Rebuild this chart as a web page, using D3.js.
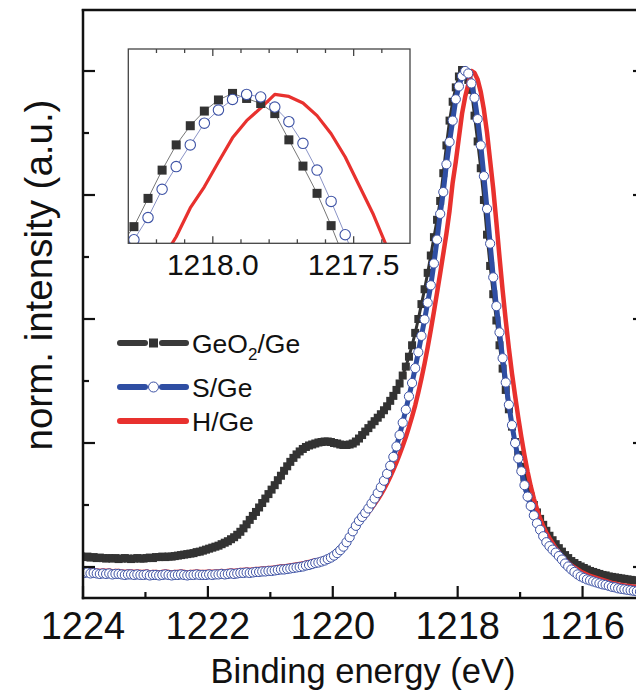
<!DOCTYPE html>
<html><head><meta charset="utf-8">
<script src="https://cdn.jsdelivr.net/npm/d3@7"></script>
<style>body{margin:0;background:#fff} svg{display:block} text{font-family:Arial,"Liberation Sans",Helvetica,sans-serif;fill:#111}</style>
</head><body><svg id="c" width="636" height="692"></svg>
<script>
// Binding-energy sampling grid (eV): 1224.03 down to 1215.08 in 0.05 eV steps (180 points)
const E_START = 1224.03, E_STEP = 0.05, N_PTS = 180;
const energy = d3.range(N_PTS).map(i => +(E_START - i * E_STEP).toFixed(2));

// GeO2/Ge (normalized intensity)
const geo2 = [
 0.021,0.020,0.021,0.019,0.020,0.018,0.019,0.018,0.017,0.018,0.017,0.018,0.016,0.017,0.018,0.017,0.016,0.017,0.018,0.017,
 0.017,0.018,0.019,0.018,0.020,0.020,0.021,0.020,0.021,0.021,0.022,0.023,0.024,0.025,0.026,0.027,0.028,0.030,0.031,0.033,
 0.035,0.037,0.039,0.041,0.043,0.046,0.049,0.052,0.056,0.060,0.065,0.071,0.078,0.086,0.095,0.103,0.111,0.120,0.129,0.138,
 0.147,0.156,0.165,0.175,0.184,0.194,0.203,0.212,0.220,0.227,0.233,0.238,0.242,0.245,0.247,0.249,0.251,0.252,0.253,0.253,
 0.252,0.250,0.249,0.247,0.246,0.246,0.247,0.249,0.253,0.259,0.266,0.273,0.280,0.287,0.294,0.301,0.308,0.316,0.324,0.335,
 0.345,0.357,0.370,0.386,0.404,0.424,0.447,0.472,0.500,0.530,0.560,0.593,0.628,0.665,0.700,0.738,0.794,0.850,0.900,0.938,
 0.967,0.989,1.002,0.992,0.982,0.962,0.910,0.858,0.804,0.740,0.670,0.607,0.550,0.497,0.447,0.400,0.357,0.318,0.283,0.252,
 0.226,0.202,0.180,0.160,0.142,0.125,0.110,0.097,0.085,0.073,0.063,0.054,0.046,0.038,0.031,0.024,0.018,0.012,0.008,0.004,
 0.001,-0.002,-0.005,-0.008,-0.010,-0.012,-0.014,-0.016,-0.017,-0.019,-0.020,-0.021,-0.022,-0.023,-0.024,-0.025,-0.026,-0.027,-0.027,-0.028
];
// S/Ge
const sge = [
 -0.011,-0.012,-0.011,-0.013,-0.012,-0.013,-0.014,-0.013,-0.014,-0.013,-0.015,-0.014,-0.014,-0.015,-0.016,-0.015,-0.015,-0.016,-0.015,-0.016,
 -0.016,-0.015,-0.017,-0.016,-0.016,-0.017,-0.016,-0.015,-0.016,-0.017,-0.016,-0.016,-0.015,-0.016,-0.017,-0.016,-0.016,-0.015,-0.016,-0.016,
 -0.016,-0.015,-0.016,-0.015,-0.015,-0.014,-0.015,-0.014,-0.013,-0.014,-0.013,-0.012,-0.012,-0.011,-0.012,-0.011,-0.010,-0.010,-0.009,-0.009,
 -0.008,-0.008,-0.007,-0.006,-0.005,-0.005,-0.004,-0.003,-0.002,-0.001,0.000,0.001,0.003,0.004,0.006,0.008,0.009,0.011,0.013,0.016,
 0.019,0.023,0.028,0.034,0.041,0.050,0.060,0.072,0.083,0.093,0.101,0.109,0.118,0.128,0.138,0.149,0.161,0.174,0.188,0.204,
 0.222,0.243,0.266,0.291,0.317,0.344,0.371,0.401,0.433,0.466,0.499,0.533,0.568,0.612,0.660,0.712,0.756,0.812,0.857,0.900,
 0.943,0.969,0.990,1.000,0.995,0.975,0.946,0.903,0.850,0.788,0.722,0.652,0.584,0.526,0.473,0.421,0.372,0.327,0.286,0.250,
 0.219,0.193,0.165,0.142,0.123,0.104,0.088,0.075,0.062,0.050,0.042,0.035,0.029,0.022,0.015,0.007,0.001,-0.005,-0.010,-0.015,
 -0.019,-0.022,-0.025,-0.027,-0.029,-0.031,-0.033,-0.035,-0.036,-0.038,-0.040,-0.041,-0.043,-0.044,-0.045,-0.046,-0.047,-0.048,-0.049,-0.050
];
// H/Ge
const hge = [
 -0.005,-0.006,-0.005,-0.007,-0.006,-0.007,-0.008,-0.007,-0.008,-0.007,-0.009,-0.008,-0.008,-0.009,-0.010,-0.009,-0.009,-0.010,-0.009,-0.010,
 -0.010,-0.009,-0.011,-0.010,-0.010,-0.011,-0.010,-0.009,-0.010,-0.011,-0.010,-0.010,-0.009,-0.010,-0.011,-0.010,-0.010,-0.009,-0.010,-0.010,
 -0.010,-0.009,-0.010,-0.009,-0.009,-0.008,-0.009,-0.008,-0.007,-0.008,-0.007,-0.006,-0.006,-0.005,-0.006,-0.005,-0.004,-0.004,-0.003,-0.003,
 -0.002,-0.002,-0.001,0.000,0.001,0.001,0.002,0.003,0.004,0.005,0.006,0.007,0.009,0.010,0.012,0.013,0.014,0.016,0.018,0.020,
 0.022,0.026,0.031,0.037,0.044,0.052,0.061,0.071,0.080,0.088,0.095,0.102,0.110,0.118,0.127,0.136,0.146,0.157,0.169,0.182,
 0.196,0.211,0.227,0.244,0.262,0.282,0.303,0.326,0.352,0.380,0.410,0.443,0.478,0.515,0.553,0.592,0.632,0.672,0.718,0.775,
 0.817,0.866,0.914,0.948,0.973,1.000,0.996,0.983,0.958,0.922,0.876,0.819,0.762,0.695,0.625,0.558,0.497,0.441,0.390,0.345,
 0.302,0.262,0.225,0.192,0.163,0.138,0.117,0.098,0.082,0.069,0.058,0.048,0.038,0.030,0.022,0.015,0.009,0.003,-0.001,-0.005,
 -0.009,-0.012,-0.015,-0.018,-0.020,-0.022,-0.024,-0.026,-0.028,-0.030,-0.032,-0.033,-0.035,-0.036,-0.037,-0.038,-0.039,-0.040,-0.040,-0.041
];

const seriesNames = ["GeO\u2082/Ge", "S/Ge", "H/Ge"];
const xMajorTicks = [1224, 1222, 1220, 1218, 1216];
const xMinorTicks = [1223, 1221, 1219, 1217, 1215];
const yMajorTicks = [0, 0.25, 0.5, 0.75, 1.0];
const yMinorTicks = [0.125, 0.375, 0.625, 0.875];
const insetMajorTicks = [1218.0, 1217.5];
const insetMinorTicks = [1218.2, 1218.1, 1217.9, 1217.8, 1217.7, 1217.6, 1217.4];
const xTitle = "Binding energy (eV)";
const yTitle = "norm. intensity (a.u.)";

const C = {dark:"#333333", blue:"#2f4ea3", circ:"#3d52a5", red:"#e8312e"};
const rows = energy.map((e, i) => ({e, g: geo2[i], s: sge[i], h: hge[i]}));

const svg = d3.select("#c");
svg.append("rect").attr("width", 636).attr("height", 692).attr("fill", "#fff");

const M = {left: 83, right: 645, top: 10, bottom: 598};
const x = d3.scaleLinear().domain([1224, 1215]).range([M.left, M.right]);
const y = d3.scaleLinear().domain([-0.0625, 1.123]).range([M.bottom, M.top]);

const defs = svg.append("defs");
defs.append("clipPath").attr("id", "clipMain").append("rect")
  .attr("x", M.left).attr("y", M.top).attr("width", M.right - M.left).attr("height", M.bottom - M.top);

const plot = svg.append("g").attr("clip-path", "url(#clipMain)");
const line = key => d3.line().x(d => x(d.e)).y(d => y(d[key]));

plot.append("path").datum(rows).attr("d", line("g")).attr("fill", "none").attr("stroke", C.dark).attr("stroke-width", 3);
plot.selectAll("rect.sq").data(rows).join("rect").attr("class", "sq")
  .attr("x", d => x(d.e) - 4).attr("y", d => y(d.g) - 4).attr("width", 8).attr("height", 8).attr("fill", C.dark);
plot.append("path").datum(rows).attr("d", line("s")).attr("fill", "none").attr("stroke", C.blue).attr("stroke-width", 5);
plot.append("path").datum(rows).attr("d", line("h")).attr("fill", "none").attr("stroke", C.red).attr("stroke-width", 4.5).attr("stroke-linejoin", "round");
plot.selectAll("circle.ci").data(rows).join("circle").attr("class", "ci")
  .attr("cx", d => x(d.e)).attr("cy", d => y(d.s)).attr("r", 4.6)
  .attr("fill", "#fff").attr("stroke", C.circ).attr("stroke-width", 1);

// frame
const ax = svg.append("g").attr("stroke", "#111").attr("stroke-width", 2.5).attr("fill", "none");
ax.append("line").attr("x1", M.left).attr("x2", M.left).attr("y1", M.top - 1).attr("y2", M.bottom + 1.2);
ax.append("line").attr("x1", M.left - 1.2).attr("x2", M.right).attr("y1", M.bottom).attr("y2", M.bottom);
ax.append("line").attr("x1", M.left - 1.2).attr("x2", M.right).attr("y1", M.top).attr("y2", M.top);
ax.append("line").attr("x1", M.right).attr("x2", M.right).attr("y1", M.top).attr("y2", M.bottom);

const tk = svg.append("g").attr("stroke", "#111").attr("stroke-width", 2.2);
xMajorTicks.forEach(v => tk.append("line").attr("x1", x(v)).attr("x2", x(v)).attr("y1", M.bottom).attr("y2", M.bottom - 12));
xMinorTicks.forEach(v => tk.append("line").attr("x1", x(v)).attr("x2", x(v)).attr("y1", M.bottom).attr("y2", M.bottom - 6));
yMajorTicks.forEach(v => {
  tk.append("line").attr("x1", M.left).attr("x2", M.left + 12).attr("y1", y(v)).attr("y2", y(v));
  tk.append("line").attr("x1", M.right).attr("x2", M.right - 12).attr("y1", y(v)).attr("y2", y(v));
});
yMinorTicks.forEach(v => {
  tk.append("line").attr("x1", M.left).attr("x2", M.left + 6).attr("y1", y(v)).attr("y2", y(v));
  tk.append("line").attr("x1", M.right).attr("x2", M.right - 6).attr("y1", y(v)).attr("y2", y(v));
});

svg.append("g").selectAll("text").data(xMajorTicks).join("text")
  .attr("x", d => x(d)).attr("y", 639).attr("text-anchor", "middle").attr("font-size", 38).text(d => d);
svg.append("text").attr("x", 363).attr("y", 683).attr("text-anchor", "middle").attr("font-size", 34.5).text(xTitle);
svg.append("text").attr("transform", "translate(52,275) rotate(-90)").attr("text-anchor", "middle").attr("font-size", 38.5).text(yTitle);

// legend
const lg = svg.append("g");
const legY = [343, 387, 421];
lg.append("line").attr("x1", 120).attr("x2", 145).attr("y1", legY[0]).attr("y2", legY[0]).attr("stroke", "#3a3a3a").attr("stroke-width", 6).attr("stroke-linecap", "round");
lg.append("line").attr("x1", 162).attr("x2", 186).attr("y1", legY[0]).attr("y2", legY[0]).attr("stroke", "#3a3a3a").attr("stroke-width", 6).attr("stroke-linecap", "round");
lg.append("rect").attr("x", 149).attr("y", legY[0] - 4.5).attr("width", 9).attr("height", 9).attr("fill", C.dark);
lg.append("line").attr("x1", 120).attr("x2", 145).attr("y1", legY[1]).attr("y2", legY[1]).attr("stroke", C.blue).attr("stroke-width", 6).attr("stroke-linecap", "round");
lg.append("line").attr("x1", 162).attr("x2", 186).attr("y1", legY[1]).attr("y2", legY[1]).attr("stroke", C.blue).attr("stroke-width", 6).attr("stroke-linecap", "round");
lg.append("circle").attr("cx", 153.5).attr("cy", legY[1]).attr("r", 5).attr("fill", "#fff").attr("stroke", C.circ).attr("stroke-width", 1);
lg.append("line").attr("x1", 120).attr("x2", 186).attr("y1", legY[2]).attr("y2", legY[2]).attr("stroke", C.red).attr("stroke-width", 6).attr("stroke-linecap", "round");
const t0 = lg.append("text").attr("x", 192).attr("y", legY[0] + 10).attr("font-size", 26.5);
t0.append("tspan").text("GeO");
t0.append("tspan").attr("font-size", 17).attr("dy", 7).text("2");
t0.append("tspan").attr("dy", -7).text("/Ge");
lg.append("text").attr("x", 192).attr("y", legY[1] + 10).attr("font-size", 26.5).text(seriesNames[1]);
lg.append("text").attr("x", 192).attr("y", legY[2] + 9.5).attr("font-size", 26.5).text(seriesNames[2]);

// inset
const I = {left: 128.3, right: 410, top: 49, bottom: 243.3};
const xi = d3.scaleLinear().domain([1218.3, 1217.3]).range([I.left, I.right]);
const yi = d3.scaleLinear().domain([0.705, 1.09]).range([I.bottom, I.top]);
defs.append("clipPath").attr("id", "clipIn").append("rect")
  .attr("x", I.left).attr("y", I.top).attr("width", I.right - I.left).attr("height", I.bottom - I.top);
svg.append("rect").attr("x", I.left).attr("y", I.top).attr("width", I.right - I.left).attr("height", I.bottom - I.top).attr("fill", "#fff");
const ins = svg.append("g").attr("clip-path", "url(#clipIn)");
const inRows = rows.filter(d => d.e <= 1218.45 && d.e >= 1217.15);
const lineI = key => d3.line().x(d => xi(d.e)).y(d => yi(d[key]));
ins.append("path").datum(inRows).attr("d", lineI("g")).attr("fill", "none").attr("stroke", "#777").attr("stroke-width", 1);
ins.append("path").datum(inRows).attr("d", lineI("s")).attr("fill", "none").attr("stroke", "#8a93c6").attr("stroke-width", 1);
ins.append("path").datum(inRows).attr("d", lineI("h")).attr("fill", "none").attr("stroke", C.red).attr("stroke-width", 3.2).attr("stroke-linejoin", "round");
ins.selectAll("rect").data(inRows).join("rect")
  .attr("x", d => xi(d.e) - 4.5).attr("y", d => yi(d.g) - 4.5).attr("width", 9).attr("height", 9).attr("fill", C.dark);
ins.selectAll("circle").data(inRows).join("circle")
  .attr("cx", d => xi(d.e)).attr("cy", d => yi(d.s)).attr("r", 5.2)
  .attr("fill", "#fff").attr("stroke", C.circ).attr("stroke-width", 1.1);
svg.append("rect").attr("x", I.left).attr("y", I.top).attr("width", I.right - I.left).attr("height", I.bottom - I.top)
  .attr("fill", "none").attr("stroke", "#444").attr("stroke-width", 1.3);
const itk = svg.append("g").attr("stroke", "#444").attr("stroke-width", 1.3);
insetMajorTicks.forEach(v => {
  itk.append("line").attr("x1", xi(v)).attr("x2", xi(v)).attr("y1", I.bottom).attr("y2", I.bottom - 7);
  itk.append("line").attr("x1", xi(v)).attr("x2", xi(v)).attr("y1", I.top).attr("y2", I.top + 7);
});
insetMinorTicks.forEach(v => {
  itk.append("line").attr("x1", xi(v)).attr("x2", xi(v)).attr("y1", I.bottom).attr("y2", I.bottom - 4);
  itk.append("line").attr("x1", xi(v)).attr("x2", xi(v)).attr("y1", I.top).attr("y2", I.top + 4);
});
svg.append("g").selectAll("text").data(insetMajorTicks).join("text")
  .attr("x", d => xi(d)).attr("y", 275).attr("text-anchor", "middle").attr("font-size", 30).text(d => d.toFixed(1));
</script></body></html>
